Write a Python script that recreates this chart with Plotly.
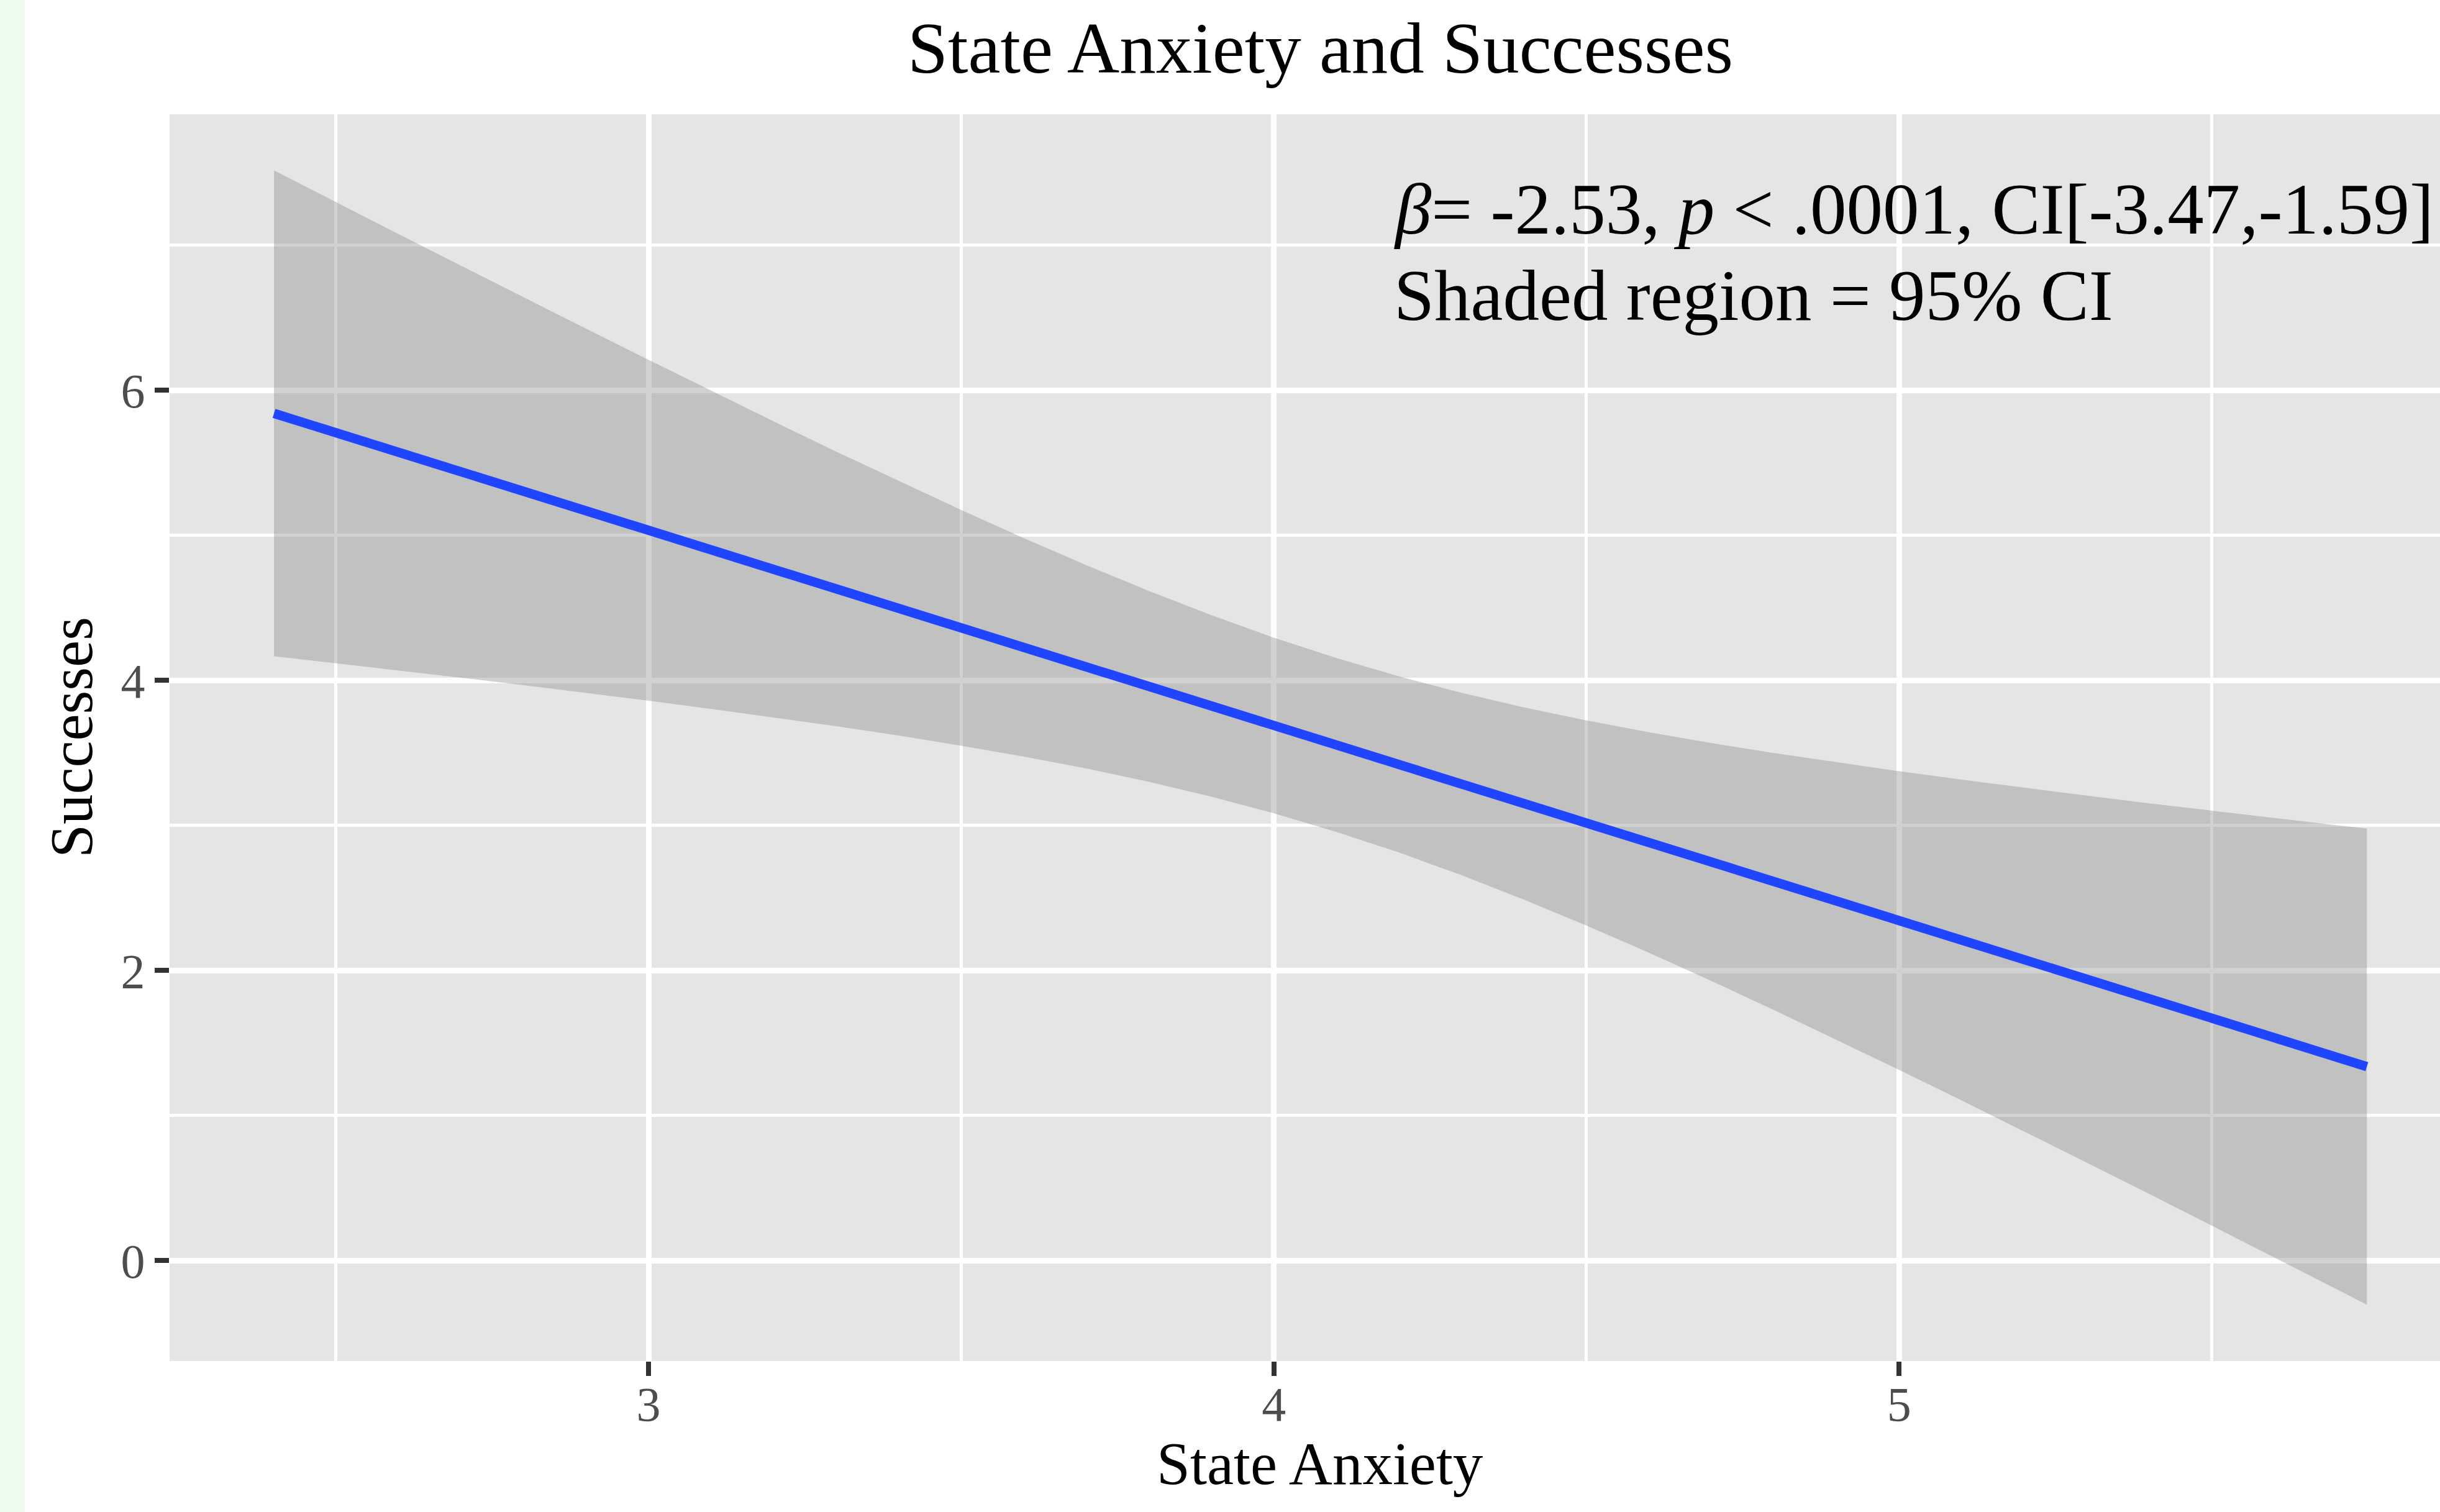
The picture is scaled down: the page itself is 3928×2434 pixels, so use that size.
import plotly.graph_objects as go

# ---- data ----
band_x = [2.401, 2.5, 2.6, 2.7, 2.8, 2.9, 3.0, 3.1, 3.2, 3.3, 3.4, 3.5, 3.6, 3.7, 3.8, 3.9,
          4.0, 4.1, 4.2, 4.3, 4.4, 4.5, 4.6, 4.7, 4.8, 4.9, 5.0, 5.1, 5.2, 5.3, 5.4, 5.5,
          5.6, 5.7, 5.748]
band_upper = [7.516, 7.297, 7.078, 6.859, 6.641, 6.425, 6.210, 5.997, 5.786, 5.578, 5.375, 5.175,
              4.981, 4.795, 4.617, 4.450, 4.295, 4.155, 4.028, 3.915, 3.814, 3.724, 3.643, 3.568,
              3.499, 3.435, 3.374, 3.316, 3.260, 3.206, 3.153, 3.102, 3.052, 3.002, 2.979]
band_lower = [4.167, 4.118, 4.069, 4.019, 3.967, 3.915, 3.860, 3.804, 3.746, 3.685, 3.620, 3.550,
              3.475, 3.393, 3.301, 3.199, 3.084, 2.956, 2.814, 2.658, 2.489, 2.310, 2.123, 1.928,
              1.728, 1.523, 1.315, 1.104, 0.891, 0.676, 0.460, 0.242, 0.023, -0.197, -0.303]
fit_x = [2.401, 5.748]
fit_y = [5.841, 1.338]
x_ticks = [3, 4, 5]
y_ticks = [0, 2, 4, 6]

title_text = "State Anxiety and Successes"
x_title = "State Anxiety"
y_title = "Successes"
stat_line1 = "<i>β</i>= -2.53, <i>p</i> < .0001, CI[-3.47,-1.59]"
stat_line2 = "Shaded region = 95% CI"

FONT = "Liberation Serif, Times New Roman, Times, serif"
W, H = 3928, 2434
ML, MR, MT, MB = 273, 0, 184, 243
PW, PH = W - ML - MR, H - MT - MB

fig = go.Figure()
fig.add_trace(go.Scatter(
    x=band_x + band_x[::-1],
    y=band_upper + band_lower[::-1],
    fill="toself", fillcolor="rgba(135,135,135,0.38)",
    line=dict(width=0), mode="lines",
    hoverinfo="skip", showlegend=False))
fig.add_trace(go.Scatter(
    x=fit_x, y=fit_y, mode="lines",
    line=dict(color="#1F45FF", width=15), showlegend=False))

axis_common = dict(
    showgrid=True, gridcolor="white", gridwidth=9,
    zeroline=False, showline=False,
    ticks="outside", ticklen=23, tickwidth=8, tickcolor="#333333",
    tickfont=dict(family=FONT, size=78, color="#4D4D4D"),
)
fig.update_xaxes(range=[2.234, 5.865], tickvals=x_ticks, ticklabelstandoff=-22,
                 minor=dict(dtick=0.5, tick0=2.5, showgrid=True, gridcolor="white", gridwidth=5, ticks=""),
                 **axis_common)
fig.update_yaxes(range=[-0.692, 7.903], tickvals=y_ticks,
                 minor=dict(dtick=1, tick0=1, showgrid=True, gridcolor="white", gridwidth=5, ticks=""),
                 **axis_common)

annos = [
    dict(text=title_text, xref="paper", yref="paper",
         x=(2125 - ML) / PW, y=1 + (MT - 77.5) / PH,
         xanchor="center", yanchor="middle", showarrow=False,
         font=dict(family=FONT, size=117, color="black")),
    dict(text=x_title, xref="paper", yref="paper",
         x=(2125 - ML) / PW, y=-(2356.5 - (H - MB)) / PH,
         xanchor="center", yanchor="middle", showarrow=False,
         font=dict(family=FONT, size=97, color="black")),
    dict(text=y_title, xref="paper", yref="paper",
         x=(115.5 - ML) / PW, y=0.5, textangle=-90,
         xanchor="center", yanchor="middle", showarrow=False,
         font=dict(family=FONT, size=97, color="black")),
    dict(text=stat_line1, xref="x", yref="y", x=4.19, y=7.252,
         xanchor="left", yanchor="middle", showarrow=False,
         font=dict(family=FONT, size=117, color="black")),
    dict(text=stat_line2, xref="x", yref="y", x=4.19, y=6.653,
         xanchor="left", yanchor="middle", showarrow=False,
         font=dict(family=FONT, size=117, color="black")),
]

fig.update_layout(
    width=W, height=H,
    margin=dict(l=ML, r=MR, t=MT, b=MB, pad=0),
    paper_bgcolor="white", plot_bgcolor="#E5E5E5",
    annotations=annos,
    shapes=[dict(type="rect", xref="paper", yref="paper",
                 x0=-ML / PW, x1=(40 - ML) / PW,
                 y0=-MB / PH, y1=1 + MT / PH,
                 fillcolor="#EDFBEE", line=dict(width=0), layer="below")],
    font=dict(family=FONT),
)

fig.write_html("out.html", config={"displayModeBar": False},
               post_script="document.body.style.margin='0';document.body.style.overflow='hidden';")
